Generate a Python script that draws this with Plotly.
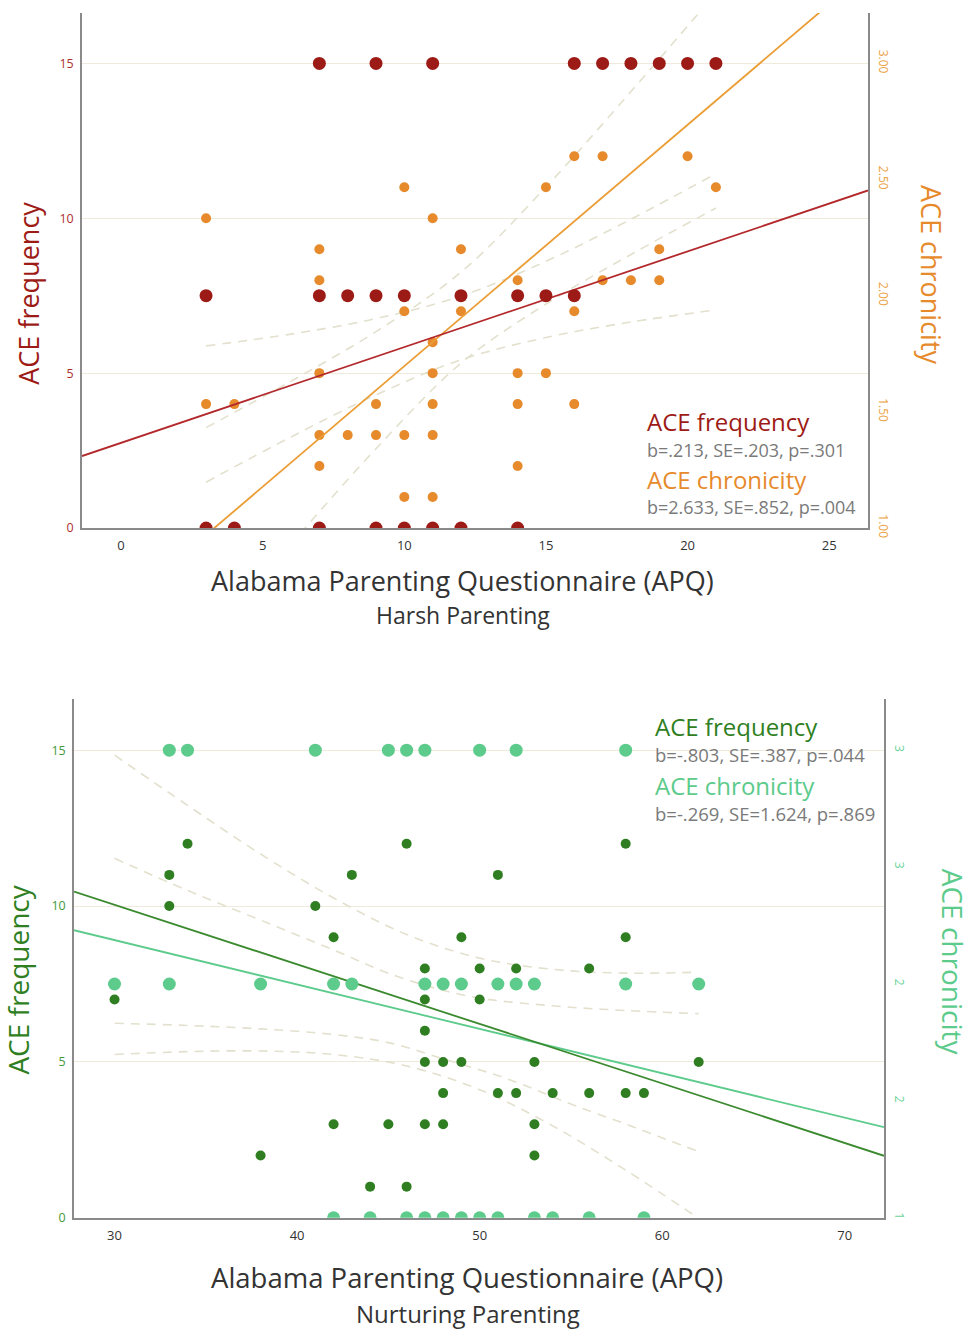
import plotly.graph_objects as go

W, H = 975, 1337

# ---------------- Top panel: Harsh Parenting ----------------
harsh_freq_x = [7, 9, 11, 16, 17, 18, 19, 20, 21,
                3, 7, 8, 9, 10, 12, 14, 15, 16,
                3, 4, 7, 9, 10, 11, 12, 14]
harsh_freq_y = [3] * 9 + [2] * 9 + [1] * 8          # plotted on right axis (1-3)

harsh_chron_x = [3, 3, 4, 7, 7, 7, 7, 7, 8, 9, 9, 10, 10, 10, 10,
                 11, 11, 11, 11, 11, 11, 12, 12, 14, 14, 14, 14,
                 15, 15, 16, 16, 16, 17, 17, 18, 19, 19, 20, 21]
harsh_chron_y = [10, 4, 4, 9, 8, 5, 3, 2, 3, 4, 3, 11, 7, 3, 1,
                 10, 6, 5, 4, 3, 1, 9, 7, 8, 5, 4, 2,
                 11, 5, 12, 7, 4, 12, 8, 8, 9, 8, 12, 11]

harsh_red_fit = (2.75, 0.309)      # intercept, slope (left-axis units)
harsh_orange_fit = (-2.563, 0.779)

harsh_band_x = [3, 6, 9, 12, 15, 18, 21]
harsh_red_upper = [5.88, 6.26, 6.76, 7.49, 8.61, 9.97, 11.44]
harsh_red_lower = [1.48, 2.94, 4.30, 5.43, 6.15, 6.65, 7.04]
harsh_orange_upper = [3.24, 4.74, 6.34, 8.26, 11.01, 14.09, 17.27]
harsh_orange_lower = [-3.70, -0.52, 2.56, 5.32, 7.23, 8.83, 10.33]

harsh_xticks = [0, 5, 10, 15, 20, 25]

# ---------------- Bottom panel: Nurturing Parenting ----------------
nurt_freq_x = [30, 33, 33, 34, 38, 41, 42, 42, 43, 44, 45, 46, 46,
               47, 47, 47, 47, 47, 48, 48, 48, 49, 49, 50, 50, 51, 51,
               52, 52, 53, 53, 53, 54, 56, 56, 58, 58, 58, 59, 62]
nurt_freq_y = [7, 11, 10, 12, 2, 10, 9, 3, 11, 1, 3, 12, 1,
               8, 7, 6, 5, 3, 5, 4, 3, 9, 5, 8, 7, 11, 4,
               8, 4, 5, 3, 2, 4, 8, 4, 12, 9, 4, 4, 5]

nurt_chron_x = [33, 34, 41, 45, 46, 47, 50, 52, 58,
                30, 33, 38, 42, 43, 47, 48, 49, 51, 52, 53, 58, 62,
                42, 44, 46, 47, 48, 49, 50, 51, 53, 54, 56, 59]
nurt_chron_y = [3] * 9 + [2] * 13 + [1] * 12       # right axis (1-3)

nurt_dark_fit = (15.77, -0.191)
nurt_light_fit = (13.18, -0.1424)

nurt_dark_band_x = [30, 34, 38, 42, 46, 50, 54, 58, 62]
nurt_dark_upper = [14.84, 13.23, 11.67, 10.26, 9.09, 8.33, 7.97, 7.85, 7.88]
nurt_dark_lower = [5.24, 5.33, 5.35, 5.24, 4.87, 4.11, 2.95, 1.53, -0.02]
nurt_light_upper_x = [30, 34, 38, 42, 45.5, 49.5, 54, 58, 62]
nurt_light_upper = [11.53, 10.5, 9.55, 8.59, 7.74, 7.1, 6.8, 6.65, 6.55]
nurt_light_lower_x = [30, 34, 38, 42, 45, 48, 51.5, 55, 58.5, 62]
nurt_light_lower = [6.24, 6.17, 6.06, 5.88, 5.62, 5.1, 4.46, 3.65, 2.9, 2.12]

nurt_xticks = [30, 40, 50, 60, 70]
chron_tickvals = [1, 1.5, 2, 2.5, 3]
harsh_chron_ticktext = ["1.00", "1.50", "2.00", "2.50", "3.00"]
nurt_chron_ticktext = ["1", "2", "2", "3", "3"]
freq_ticks = [0, 5, 10, 15]

# ---------------- colours ----------------
RED = "#9d1b16"
RED_LINE = "#b3282b"
ORANGE = "#e68a2c"
ORANGE_LINE = "#eb9d35"
DGREEN = "#2f7f22"
DGREEN_LINE = "#3b8a2f"
LGREEN = "#5ccb8b"
BAND = "#e3e0cd"
GRID = "#efeadb"
AXIS = "#8a8a8a"
GRAY = "#7a7a7a"
FONT = "Open Sans"
NOTICK = "rgba(0,0,0,0)"

fig = go.Figure()


def px_x(p):
    return p / W


def px_y(p):
    return 1 - p / H


# panel geometry (pixels)
T_L, T_R, T_T, T_B = 82, 868, 13, 532
B_L, B_R, B_T, B_B = 74, 884, 704, 1227

TOP_X_RANGE = [-1.38, 26.37]
TOP_Y_RANGE = [0, 16.63]
BOT_X_RANGE = [27.78, 72.15]
BOT_Y_RANGE = [0, 16.65]


def line_pts(fit, xr):
    a, b = fit
    xs = [xr[0], xr[1]]
    return xs, [a + b * v for v in xs]


# ---- top bands
for xs, ys in [(harsh_band_x, harsh_red_upper), (harsh_band_x, harsh_red_lower),
               (harsh_band_x, harsh_orange_upper), (harsh_band_x, harsh_orange_lower)]:
    fig.add_trace(go.Scatter(x=xs, y=ys, mode="lines", xaxis="x", yaxis="y",
                             line=dict(color=BAND, width=1.6, dash="9px,7px", shape="spline"),
                             hoverinfo="skip", showlegend=False))
fig.add_trace(go.Scatter(x=harsh_chron_x, y=harsh_chron_y, mode="markers", xaxis="x", yaxis="y",
                         marker=dict(color=ORANGE, size=10), showlegend=False))
fig.add_trace(go.Scatter(x=harsh_freq_x, y=harsh_freq_y, mode="markers", xaxis="x", yaxis="y2",
                         marker=dict(color=RED, size=13), showlegend=False))
lx, ly = line_pts(harsh_orange_fit, TOP_X_RANGE)
fig.add_trace(go.Scatter(x=lx, y=ly, mode="lines", xaxis="x", yaxis="y",
                         line=dict(color=ORANGE_LINE, width=1.8), showlegend=False))
lx, ly = line_pts(harsh_red_fit, TOP_X_RANGE)
fig.add_trace(go.Scatter(x=lx, y=ly, mode="lines", xaxis="x", yaxis="y",
                         line=dict(color=RED_LINE, width=1.8), showlegend=False))

# ---- bottom bands
for xs, ys in [(nurt_dark_band_x, nurt_dark_upper), (nurt_dark_band_x, nurt_dark_lower),
               (nurt_light_upper_x, nurt_light_upper), (nurt_light_lower_x, nurt_light_lower)]:
    fig.add_trace(go.Scatter(x=xs, y=ys, mode="lines", xaxis="x2", yaxis="y3",
                             line=dict(color=BAND, width=1.6, dash="9px,7px", shape="spline"),
                             hoverinfo="skip", showlegend=False))
fig.add_trace(go.Scatter(x=nurt_chron_x, y=nurt_chron_y, mode="markers", xaxis="x2", yaxis="y4",
                         marker=dict(color=LGREEN, size=13), showlegend=False))
fig.add_trace(go.Scatter(x=nurt_freq_x, y=nurt_freq_y, mode="markers", xaxis="x2", yaxis="y3",
                         marker=dict(color=DGREEN, size=10), showlegend=False))
lx, ly = line_pts(nurt_light_fit, BOT_X_RANGE)
fig.add_trace(go.Scatter(x=lx, y=ly, mode="lines", xaxis="x2", yaxis="y3",
                         line=dict(color=LGREEN, width=1.8), showlegend=False))
lx, ly = line_pts(nurt_dark_fit, BOT_X_RANGE)
fig.add_trace(go.Scatter(x=lx, y=ly, mode="lines", xaxis="x2", yaxis="y3",
                         line=dict(color=DGREEN_LINE, width=1.8), showlegend=False))

chron_top = lambda r: [1, 1 + r[1] * 2 / 15]

common_x = dict(showgrid=False, zeroline=False, showline=True, linecolor=AXIS, linewidth=1.5,
                ticks="outside", ticklen=5, tickcolor=NOTICK,
                tickfont=dict(family=FONT, size=13, color="#333333"), fixedrange=True)
common_y = dict(zeroline=False, showline=True, linecolor=AXIS, linewidth=1.5,
                ticks="outside", ticklen=4, tickcolor=NOTICK, fixedrange=True)

fig.update_layout(
    width=W, height=H, autosize=False,
    margin=dict(l=0, r=0, t=0, b=0),
    paper_bgcolor="white", plot_bgcolor="white",
    showlegend=False,
    xaxis=dict(common_x, domain=[px_x(T_L), px_x(T_R)], range=TOP_X_RANGE, anchor="y",
               tickvals=harsh_xticks),
    yaxis=dict(common_y, domain=[px_y(T_B), px_y(T_T)], range=TOP_Y_RANGE, anchor="x",
               tickvals=freq_ticks, showgrid=True, gridcolor=GRID, gridwidth=1.2,
               tickfont=dict(family=FONT, size=12.5, color="#ad3030")),
    yaxis2=dict(common_y, overlaying="y", side="right", anchor="x", range=chron_top(TOP_Y_RANGE),
                tickvals=chron_tickvals, ticktext=harsh_chron_ticktext, tickangle=90,
                showgrid=False, tickfont=dict(family=FONT, size=12, color="#eaa040")),
    xaxis2=dict(common_x, domain=[px_x(B_L), px_x(B_R)], range=BOT_X_RANGE, anchor="y3",
                tickvals=nurt_xticks),
    yaxis3=dict(common_y, domain=[px_y(B_B), px_y(B_T)], range=BOT_Y_RANGE, anchor="x2",
                tickvals=freq_ticks, showgrid=True, gridcolor=GRID, gridwidth=1.2,
                tickfont=dict(family=FONT, size=12.5, color="#3f9a3a")),
    yaxis4=dict(common_y, overlaying="y3", side="right", anchor="x2", range=chron_top(BOT_Y_RANGE),
                tickvals=chron_tickvals, ticktext=nurt_chron_ticktext, tickangle=90,
                showgrid=False, tickfont=dict(family=FONT, size=12, color="#6ad39a")),
)


def ann(text, x, y, size, color, angle=0, xanchor="center"):
    fig.add_annotation(text=text, x=px_x(x), y=px_y(y), xref="paper", yref="paper",
                       showarrow=False, textangle=angle, xanchor=xanchor, yanchor="middle",
                       font=dict(family=FONT, size=size, color=color))


# axis titles
ann("ACE frequency", 29, 296, 27, RED, angle=-90)
ann("ACE chronicity", 931, 277, 27, ORANGE, angle=90)
ann("Alabama Parenting Questionnaire (APQ)", 462, 585, 27, "#333333")
ann("Harsh Parenting", 463, 620, 23, "#333333")

ann("ACE frequency", 18, 987, 28, DGREEN, angle=-90)
ann("ACE chronicity", 953, 969, 28, LGREEN, angle=90)
ann("Alabama Parenting Questionnaire (APQ)", 467, 1287, 27.5, "#333333")
ann("Nurturing Parenting", 468, 1323, 24, "#333333")

# statistics text
ann("ACE frequency", 645, 425, 24, RED, xanchor="left")
ann("b=.213, SE=.203, p=.301", 645, 453, 18, GRAY, xanchor="left")
ann("ACE chronicity", 645, 483, 24, ORANGE, xanchor="left")
ann("b=2.633, SE=.852, p=.004", 645, 511, 18, GRAY, xanchor="left")

ann("ACE frequency", 653, 732, 24, DGREEN, xanchor="left")
ann("b=-.803, SE=.387, p=.044", 653, 760, 18.5, GRAY, xanchor="left")
ann("ACE chronicity", 653, 791, 24, LGREEN, xanchor="left")
ann("b=-.269, SE=1.624, p=.869", 653, 820, 18.5, GRAY, xanchor="left")

fig.write_html("out.html", config={"displayModeBar": False},
               post_script="document.body.style.margin='0px';")
